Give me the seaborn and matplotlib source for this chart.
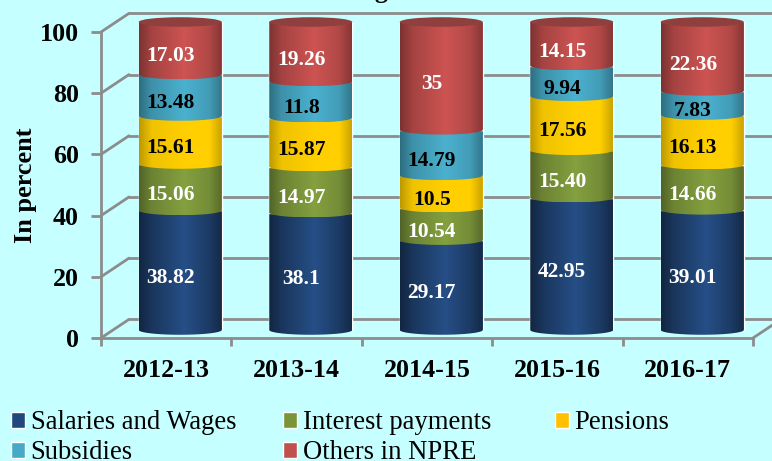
import numpy as np
import matplotlib
matplotlib.use("Agg")
import matplotlib.pyplot as plt
from matplotlib.path import Path
from matplotlib.patches import PathPatch, Ellipse
import pandas as pd
import seaborn as sns

# Data
years = ["2012-13", "2013-14", "2014-15", "2015-16", "2016-17"]
salaries = [38.82, 38.1, 29.17, 42.95, 39.01]
interest = [15.06, 14.97, 10.54, 15.40, 14.66]
pensions = [15.61, 15.87, 10.5, 17.56, 16.13]
subsidies = [13.48, 11.8, 14.79, 9.94, 7.83]
others = [17.03, 19.26, 35, 14.15, 22.36]
y_ticks = [0, 20, 40, 60, 80, 100]

names = ["Salaries and Wages", "Interest payments", "Pensions", "Subsidies", "Others in NPRE"]
series = [salaries, interest, pensions, subsidies, others]
colors = ["#264F87", "#84A03F", "#FFCF00", "#4BB1CF", "#CD5452"]
legend_colors = ["#1F497D", "#7A9438", "#FFC000", "#46A9C6", "#C0504D"]
label_colors = ["white", "white", "black", "black", "white"]
edge_dark = [0.48, 0.62, 0.74, 0.62, 0.6]

W, H = 772, 461
BG = "#C5FFFF"
GREY = "#8C8C8C"

sns.set_theme(style="white")
plt.rcParams["font.family"] = ["Liberation Serif", "DejaVu Serif"]


def px_axes(fig, left, right, top, bottom):
    return fig.add_axes([left / W, 1 - bottom / H, (right - left) / W, (bottom - top) / H])


fig = plt.figure(figsize=(W / 100, H / 100), dpi=100, facecolor=BG)

# Front plane: ticks, labels and the wall lines
ax = px_axes(fig, 101, 753, 32, 338)
ax.set_facecolor("none")
ax.set_xlim(-0.5, 4.5)
ax.set_ylim(0, 100)
ax.set_yticks(y_ticks)
ax.set_xticks(np.arange(-0.5, 5))
ax.set_xticklabels([])
ax.tick_params(axis="y", left=True, length=7, width=2, color=GREY, labelsize=18.7, pad=9)
ax.tick_params(axis="x", bottom=True, length=6, width=2, color=GREY)
for lab in ax.get_yticklabels():
    lab.set_fontweight("bold")
    lab.set_color("black")
for side in ["top", "right"]:
    ax.spines[side].set_visible(False)
for side in ["left", "bottom"]:
    ax.spines[side].set_color(GREY)
    ax.spines[side].set_linewidth(2)

dx, dy = 0.215, 6.1
for v in y_ticks:
    ax.plot([-0.5, -0.5 + dx], [v, v + dy], color=GREY, lw=2, clip_on=False)
    ax.plot([-0.5 + dx, 4.7], [v + dy, v + dy], color=GREY, lw=2, clip_on=False)
ax.plot([4.5, 4.5 + dx * 0.7], [0, dy * 0.7], color=GREY, lw=2, clip_on=False)
for i, year in enumerate(years):
    ax.text(i, -12.6, year, ha="center", va="baseline", fontsize=18.7, fontweight="bold", color="black")
ax.set_ylabel("In percent", fontsize=18.9, fontweight="bold", color="black", labelpad=2)

# Cylinders sit further back, so they get their own axes
bar_ax = px_axes(fig, 115, 767.5, 22, 330)
bar_ax.set_facecolor("none")
bar_ax.axis("off")

long_df = pd.DataFrame({"year": years})
bottom = np.zeros(len(years))
bar_w = 0.636
ry = 1.55
handles = []
for s, (vals, name, col) in enumerate(zip(series, names, colors)):
    long_df[name] = vals
    n_before = len(bar_ax.patches)
    sns.barplot(data=long_df, x="year", y=name, color=legend_colors[s], saturation=1, width=bar_w,
                bottom=bottom, ax=bar_ax, zorder=2 + s)
    rects = bar_ax.patches[n_before:]
    handles.append(rects[0])

    # cylinder shading, left dark -> bright -> right dark
    e = edge_dark[s]
    stops = np.interp(np.linspace(0, 1, 128), [0, 0.15, 0.55, 0.85, 1],
                      [e, e + 0.2, 1, e + 0.26, e + 0.05])
    rgb = np.array(matplotlib.colors.to_rgb(col))
    grad = (stops[None, :, None] * rgb[None, None, :]).clip(0, 1)
    for i, rect in enumerate(rects):
        x0, w = rect.get_x(), rect.get_width()
        y0, h = rect.get_y(), rect.get_height()
        t = np.linspace(0, np.pi, 40)
        xs = x0 + w / 2 - w / 2 * np.cos(t)
        ys = y0 - ry * np.sin(t)
        verts = np.vstack([np.column_stack([xs, ys]), [x0 + w, y0 + h], [x0, y0 + h], [x0, y0]])
        im = bar_ax.imshow(grad, extent=[x0, x0 + w, y0 - ry, y0 + h], aspect="auto", zorder=2.5 + s)
        im.set_clip_path(PathPatch(Path(verts), transform=bar_ax.transData))
        im.set_clip_box(fig.bbox)
        label = "15.40" if vals[i] == 15.40 else str(vals[i])
        # labels sit on the front plane, a bit left of and below the cylinder centre
        bar_ax.annotate(label, (i, y0 + h / 2), xytext=(-6.8, -5.8), textcoords="offset points",
                        ha="center", va="center", fontsize=15.5, fontweight="bold",
                        color=label_colors[s], zorder=20)
    bottom = bottom + np.array(vals)

for i in range(len(years)):
    bar_ax.add_patch(Ellipse((i, 100), bar_w, 2 * ry, facecolor="#8F3F3D", edgecolor="none",
                             zorder=15, clip_on=False))
bar_ax.set_xlim(-0.5, 4.5)
bar_ax.set_ylim(0, 100)

# Legend, one block per column
col_x = [11, 283, 555]
col_items = [[0, 3], [1, 4], [2]]
for cx, items in zip(col_x, col_items):
    leg = fig.legend([handles[k] for k in items], [names[k] for k in items], loc="upper left",
                     bbox_to_anchor=(cx / W, 1 - 410 / H), frameon=False, prop={"size": 19.2},
                     handlelength=0.54, handleheight=0.54, handletextpad=0.2, labelspacing=0.2,
                     borderpad=0, borderaxespad=0)
    for txt in leg.get_texts():
        txt.set_color("black")

# Only the descender of the title falls inside the picture
fig.text(381 / W, 1 + 2 / H, "g", ha="center", va="baseline", fontsize=18.7, fontweight="bold", color="black")

fig.savefig("out.png", dpi=100, facecolor=BG)
